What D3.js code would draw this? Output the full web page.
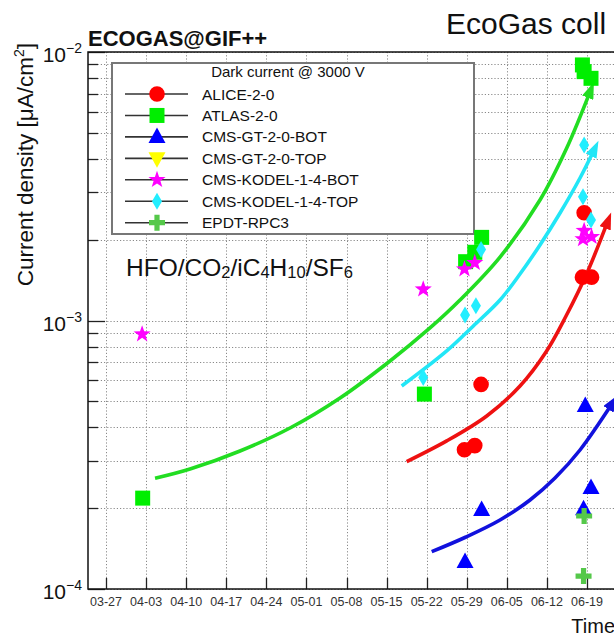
<!DOCTYPE html>
<html><head><meta charset="utf-8">
<script src="https://cdn.jsdelivr.net/npm/d3@7"></script>
<style>
html,body{margin:0;padding:0;background:#fff;overflow:hidden}
svg{display:block}
text{font-family:"Liberation Sans",Arial,Helvetica,sans-serif}
</style>
</head><body>
<svg id="c" width="614" height="637"></svg>
<script>
// ---------------- DATA ----------------
const tickLabels = ["03-27","04-03","04-10","04-17","04-24","05-01","05-08","05-15","05-22","05-29","06-05","06-12","06-19"];
const yMajor = [1e-4, 1e-3, 1e-2];
const yExponents = ["−4","−3","−2"];
const seriesNames = ["ALICE-2-0","ATLAS-2-0","CMS-GT-2-0-BOT","CMS-GT-2-0-TOP","CMS-KODEL-1-4-BOT","CMS-KODEL-1-4-TOP","EPDT-RPC3"];

// measurement points: days after 03-27, current density [uA/cm2]
const aliceDays = [62.6, 64.4, 65.5, 83.2, 84.8, 83.5];
const aliceVals = [3.30e-4, 3.42e-4, 5.78e-4, 1.45e-3, 1.45e-3, 2.52e-3];
const atlasDays = [6.4, 55.6, 62.8, 64.4, 65.6, 83.2, 83.5, 84.7];
const atlasVals = [2.18e-4, 5.32e-4, 1.656e-3, 1.795e-3, 2.04e-3, 8.95e-3, 8.45e-3, 7.98e-3];
const gtBotDays = [62.7, 65.6, 83.7, 84.7, 83.4];
const gtBotVals = [1.26e-4, 1.97e-4, 4.8e-4, 2.38e-4, 1.98e-4];
const gtTopDays = [];
const gtTopVals = [];
const kodelBotDays = [6.3, 55.4, 62.6, 64.4, 83.5, 83.3, 84.8];
const kodelBotVals = [8.89e-4, 1.307e-3, 1.552e-3, 1.64e-3, 2.16e-3, 2.01e-3, 2.05e-3];
const kodelTopDays = [55.4, 62.7, 64.6, 65.5, 83.5, 83.3, 84.7];
const kodelTopVals = [6.14e-4, 1.048e-3, 1.135e-3, 1.84e-3, 4.5e-3, 2.89e-3, 2.37e-3];
const epdtDays = [83.5, 83.4];
const epdtVals = [1.87e-4, 1.117e-4];

// trend arrows (hand drawn), days after 03-27 and values
const greenTrendDays = [8.56, 14.67, 23.40, 32.13, 40.87, 49.60, 56.58, 61.82, 68.81, 75.79, 80.46, 84.70];
const greenTrendVals = [2.584e-4, 2.798e-4, 3.266e-4, 3.977e-4, 5.144e-4, 7.067e-4, 9.38e-4, 1.192e-3, 1.723e-3, 2.81e-3, 4.39e-3, 7.26e-3];
const cyanTrendDays = [51.64, 59.50, 64.15, 68.81, 72.30, 75.79, 79.29, 82.78, 85.40];
const cyanTrendVals = [5.70e-4, 7.70e-4, 9.54e-4, 1.192e-3, 1.490e-3, 1.911e-3, 2.514e-3, 3.394e-3, 4.39e-3];
const redTrendDays = [52.51, 59.50, 66.49, 72.30, 76.84, 80.34, 84.00, 87.72];
const redTrendVals = [2.98e-4, 3.56e-4, 4.41e-4, 5.70e-4, 7.63e-4, 1.039e-3, 1.503e-3, 2.37e-3];
const blueTrendDays = [56.88, 62.87, 68.81, 74.05, 78.41, 82.78, 88.60];
const blueTrendVals = [1.377e-4, 1.562e-4, 1.807e-4, 2.145e-4, 2.59e-4, 3.294e-4, 4.98e-4];

// ---------------- BUILD ----------------
const svg = d3.select("#c");
const L = 88, T = 52, B = 589;
const pxPerDay = 40.08 / 7;
const dayMin = -3.15, dayMax = 92.6;
const R = L + (dayMax - dayMin) * pxPerDay;

const x = d3.scaleLinear().domain([dayMin, dayMax]).range([L, R]);
const y = d3.scaleLog().domain([1e-4, 1e-2]).range([B, T]);

const parse = d3.timeParse("%Y-%m-%d");
const t0 = parse("2022-" + tickLabels[0]);
const tickDays = tickLabels.map(s => d3.timeDay.count(t0, parse("2022-" + s)));

const minorVals = [];
yMajor.slice(0, -1).forEach(d => { for (let k = 2; k <= 9; k++) minorVals.push(d * k); });

// grid
const grid = svg.append("g").attr("stroke", "#8a8a8a").attr("stroke-width", 1).attr("stroke-dasharray", "1.2,2");
grid.selectAll(".gx").data(tickDays).enter().append("line")
  .attr("x1", d => Math.round(x(d)) + 0.5).attr("x2", d => Math.round(x(d)) + 0.5)
  .attr("y1", T).attr("y2", B);
grid.selectAll(".gy").data(minorVals.concat(yMajor)).enter().append("line")
  .attr("x1", L).attr("x2", R)
  .attr("y1", d => Math.round(y(d)) + 0.5).attr("y2", d => Math.round(y(d)) + 0.5);

// ticks
const ticks = svg.append("g").attr("stroke", "#222").attr("stroke-width", 1.3);
ticks.selectAll(".tx").data(tickDays).enter().append("line")
  .attr("x1", d => Math.round(x(d)) + 0.5).attr("x2", d => Math.round(x(d)) + 0.5)
  .attr("y1", B).attr("y2", B - 11);
ticks.selectAll(".tym").data(yMajor).enter().append("line")
  .attr("x1", L).attr("x2", L + 17)
  .attr("y1", d => Math.round(y(d)) + 0.5).attr("y2", d => Math.round(y(d)) + 0.5);
ticks.selectAll(".tyn").data(minorVals).enter().append("line")
  .attr("x1", L).attr("x2", L + 10)
  .attr("y1", d => Math.round(y(d)) + 0.5).attr("y2", d => Math.round(y(d)) + 0.5);

// frame
svg.append("rect").attr("x", L).attr("y", T).attr("width", R - L).attr("height", B - T)
  .attr("fill", "none").attr("stroke", "#111").attr("stroke-width", 1.5);

// x tick labels
svg.append("g").selectAll("text").data(tickLabels).enter().append("text")
  .attr("x", (d, i) => x(tickDays[i])).attr("y", 606)
  .attr("text-anchor", "middle").attr("font-size", 12.5).attr("fill", "#333")
  .text(d => d);

// y tick labels
const yl = svg.append("g").selectAll("text").data(yMajor).enter().append("text")
  .attr("x", 82).attr("y", d => y(d) + 10).attr("text-anchor", "end")
  .attr("font-size", 21).attr("fill", "#111");
yl.append("tspan").text("10");
yl.append("tspan").attr("font-size", 14).attr("dy", -9).text((d, i) => yExponents[i]);

// axis titles
svg.append("text").attr("transform", "translate(33,43) rotate(-90)")
  .attr("text-anchor", "end").attr("font-size", 22.5).attr("fill", "#111")
  .html('Current density [μA/cm<tspan font-size="14" dy="-9">2</tspan><tspan dy="9">]</tspan>');
svg.append("text").attr("x", 615).attr("y", 633).attr("text-anchor", "end")
  .attr("font-size", 20).attr("fill", "#111").text("Time");

// titles
svg.append("text").attr("x", 88).attr("y", 46).attr("font-size", 22).attr("font-weight", "bold")
  .attr("fill", "#111").text("ECOGAS@GIF++");
svg.append("text").attr("x", 446).attr("y", 34).attr("font-size", 30)
  .attr("fill", "#111").text("EcoGas coll");

const gas = svg.append("text").attr("x", 126).attr("y", 276).attr("font-size", 24.5).attr("fill", "#111");
[["HFO/CO",0],["2",1],["/iC",0],["4",1],["H",0],["10",1],["/SF",0],["6",1]].forEach(([s, sub], i) => {
  const t = gas.append("tspan").text(s);
  if (sub) t.attr("font-size", 16.5).attr("dy", 2);
  else t.attr("dy", i === 0 ? 0 : -2);
});

// trend arrows
const defs = svg.append("defs");
const trends = [
  {days: greenTrendDays, vals: greenTrendVals, color: "#22dd22"},
  {days: cyanTrendDays, vals: cyanTrendVals, color: "#22e6f6"},
  {days: redTrendDays, vals: redTrendVals, color: "#ee1111"},
  {days: blueTrendDays, vals: blueTrendVals, color: "#1111dd"}
];
trends.forEach((tr, i) => {
  defs.append("marker").attr("id", "ah" + i).attr("markerUnits", "userSpaceOnUse")
    .attr("markerWidth", 18).attr("markerHeight", 12).attr("refX", 9).attr("refY", 6)
    .attr("orient", "auto")
    .append("path").attr("d", "M0,0 L17,6 L0,12 Z").attr("fill", tr.color);
});
const line = d3.line().x(d => x(d[0])).y(d => y(d[1])).curve(d3.curveCatmullRom.alpha(0.5));
trends.forEach((tr, i) => {
  svg.append("path").datum(tr.days.map((d, j) => [d, tr.vals[j]]))
    .attr("d", line).attr("fill", "none").attr("stroke", tr.color)
    .attr("stroke-width", 3.6).attr("marker-end", "url(#ah" + i + ")");
});

// marker shapes
function star(ro, ri) {
  let p = "";
  for (let k = 0; k < 10; k++) {
    const r = k % 2 ? ri : ro;
    const a = -Math.PI / 2 + k * Math.PI / 5;
    p += (k ? "L" : "M") + (r * Math.cos(a)).toFixed(2) + "," + (r * Math.sin(a)).toFixed(2);
  }
  return p + "Z";
}
const shapes = {
  circle: "M-7.8,0A7.8,7.8 0 1,0 7.8,0A7.8,7.8 0 1,0 -7.8,0Z",
  square: "M-7.5,-7.5H7.5V7.5H-7.5Z",
  tri: "M0,-9.5L8.5,6L-8.5,6Z",
  tridown: "M0,9.5L8.5,-6L-8.5,-6Z",
  star: star(9, 3.6),
  diamond: "M0,-8.5L5,0L0,8.5L-5,0Z",
  cross: "M-2.6,-8H2.6V-2.6H8V2.6H2.6V8H-2.6V2.6H-8V-2.6H-2.6Z"
};
const seriesShapes = ["circle","square","tri","tridown","star","diamond","cross"];
const seriesColors = ["#ff0000","#00ee00","#0000ff","#ffff00","#ff00ff","#22eeff","#55c84a"];
const seriesDays = [aliceDays, atlasDays, gtBotDays, gtTopDays, kodelBotDays, kodelTopDays, epdtDays];
const seriesVals = [aliceVals, atlasVals, gtBotVals, gtTopVals, kodelBotVals, kodelTopVals, epdtVals];

const series = seriesNames.map((n, i) => ({
  name: n, shape: shapes[seriesShapes[i]], color: seriesColors[i],
  pts: seriesDays[i].map((d, j) => [d, seriesVals[i][j]])
}));

// legend
const LX = 112, LY = 63, LW = 362, LH = 171;
const leg = svg.append("g");
leg.append("rect").attr("x", LX).attr("y", LY).attr("width", LW).attr("height", LH)
  .attr("fill", "#fff").attr("stroke", "#777").attr("stroke-width", 2);
leg.append("text").attr("x", 288).attr("y", 77).attr("text-anchor", "middle")
  .attr("font-size", 15).attr("fill", "#111").text("Dark current @ 3000 V");
const rowY = i => 94 + i * 21.45;
series.forEach((s, i) => {
  leg.append("line").attr("x1", 125).attr("x2", 188).attr("y1", rowY(i)).attr("y2", rowY(i))
    .attr("stroke", "#333").attr("stroke-width", 1.6);
  leg.append("path").attr("d", s.shape).attr("fill", s.color)
    .attr("transform", `translate(157,${rowY(i)})`);
  leg.append("text").attr("x", 202).attr("y", rowY(i) + 5.5).attr("font-size", 15.5)
    .attr("fill", "#111").text(s.name);
});

// data markers
series.forEach(s => {
  svg.append("g").selectAll("path").data(s.pts).enter().append("path")
    .attr("d", s.shape).attr("fill", s.color)
    .attr("transform", d => `translate(${x(d[0])},${y(d[1])})`);
});
</script>
</body></html>
